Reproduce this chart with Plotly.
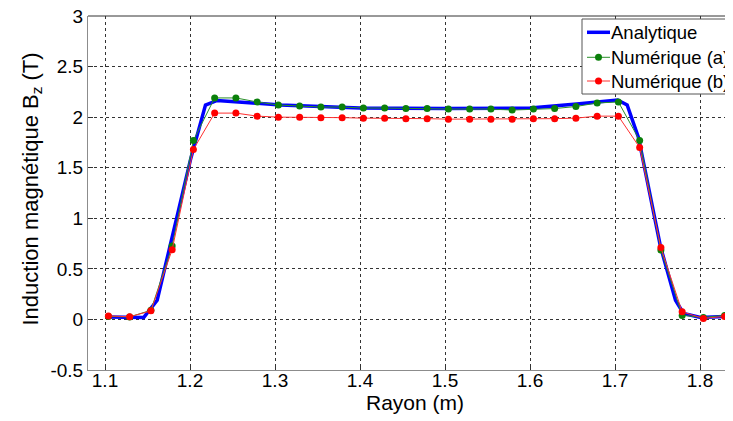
import plotly.graph_objects as go

# Analytical solution
x_analytic = [1.104, 1.1456, 1.1614, 1.177, 1.2006, 1.2182, 1.232, 1.3065, 1.40, 1.50,
              1.60, 1.655, 1.703, 1.7143, 1.7276, 1.7535, 1.7712, 1.7806, 1.8006, 1.8286]
y_analytic = [0.025, 0.02, 0.19, 0.75, 1.58, 2.12, 2.165, 2.12, 2.09, 2.085,
              2.09, 2.13, 2.17, 2.12, 1.80, 0.72, 0.19, 0.06, 0.02, 0.03]

# Numerical results (30 radial positions, step 0.025 m)
x_num = [1.104 + 0.025 * i for i in range(30)]
y_num_a = [0.03, 0.025, 0.09, 0.725, 1.77, 2.19, 2.19, 2.15, 2.12, 2.11,
           2.10, 2.10, 2.09, 2.09, 2.085, 2.085, 2.08, 2.08, 2.08, 2.07,
           2.08, 2.085, 2.105, 2.14, 2.15, 1.77, 0.686, 0.04, 0.02, 0.04]
y_num_b = [0.035, 0.026, 0.085, 0.69, 1.68, 2.04, 2.04, 2.01, 2.00, 2.00,
           1.995, 1.995, 1.99, 1.99, 1.985, 1.985, 1.98, 1.98, 1.98, 1.98,
           1.985, 1.985, 1.99, 2.01, 2.01, 1.70, 0.71, 0.075, 0.01, 0.03]

x_ticks = [1.1, 1.2, 1.3, 1.4, 1.5, 1.6, 1.7, 1.8]
y_ticks = [-0.5, 0, 0.5, 1, 1.5, 2, 2.5, 3]
y_tick_labels = ["-0.5", "0", "0.5", "1", "1.5", "2", "2.5", "3"]

series_names = ["Analytique", "Numérique (a)", "Numérique (b)"]
series_colors = ["#0000FF", "#0b800b", "#FF0000"]
line_colors = ["#0000FF", "#2a8f2a", "#FF3030"]

font_family = "Liberation Sans, Arial, sans-serif"

# figure geometry (page body adds an 8px offset)
W, H = 725, 413
L, T, B, R = 80, 8, 51, 0
PW, PH = W - L - R, H - T - B


def px(X):  # window x pixel -> paper
    return (X - 8 - L) / PW


def py(Y):  # window y pixel -> paper
    return 1 - (Y - 8 - T) / PH


fig = go.Figure()
fig.add_trace(go.Scatter(x=x_analytic, y=y_analytic, mode="lines", name=series_names[0],
                         line=dict(color=line_colors[0], width=3.5)))
fig.add_trace(go.Scatter(x=x_num, y=y_num_a, mode="lines+markers", name=series_names[1],
                         line=dict(color=line_colors[1], width=1),
                         marker=dict(color=series_colors[1], size=7)))
fig.add_trace(go.Scatter(x=x_num, y=y_num_b, mode="lines+markers", name=series_names[2],
                         line=dict(color=line_colors[2], width=1),
                         marker=dict(color=series_colors[2], size=7)))

grid = dict(showgrid=True, gridcolor="#333333", gridwidth=1, griddash="dot")

# manual legend (box clipped on the right like the reference)
shapes = [
    dict(type="line", xref="paper", yref="paper", x0=0, x1=1, y0=1, y1=1,
         line=dict(color="#333333", width=1)),
    dict(type="rect", xref="paper", yref="paper", x0=px(582), x1=px(760), y0=py(94), y1=py(19),
         line=dict(color="#555555", width=1), fillcolor="white", layer="above"),
]
annotations = []
rows = [32.3, 57.3, 81.0]
for i, name in enumerate(series_names):
    yy = py(rows[i])
    shapes.append(dict(type="line", xref="paper", yref="paper", x0=px(587), x1=px(610), y0=yy, y1=yy,
                       line=dict(color=line_colors[i], width=3.5 if i == 0 else 1), layer="above"))
    if i > 0:
        shapes.append(dict(type="circle", xref="paper", yref="paper", xsizemode="pixel", ysizemode="pixel",
                           xanchor=px(598.5), yanchor=yy, x0=-3.5, x1=3.5, y0=-3.5, y1=3.5,
                           fillcolor=series_colors[i], line=dict(width=0), layer="above"))
    annotations.append(dict(text=name, xref="paper", yref="paper", x=px(609), y=yy,
                            xanchor="left", yanchor="middle", showarrow=False,
                            font=dict(size=18.5, family=font_family, color="black")))

# axis titles
annotations.append(dict(text="Induction magnétique B<sub>z</sub> (T)", xref="paper", yref="paper",
                        x=px(31.5), y=py(189), xanchor="center", yanchor="middle", textangle=-90,
                        showarrow=False, font=dict(size=22, family=font_family, color="black")))
annotations.append(dict(text="Rayon (m)", xref="paper", yref="paper",
                        x=px(415), y=py(402), xanchor="center", yanchor="middle",
                        showarrow=False, font=dict(size=21, family=font_family, color="black")))

fig.update_layout(
    width=W, height=H,
    margin=dict(l=L, r=R, t=T, b=B, autoexpand=False),
    paper_bgcolor="white", plot_bgcolor="white",
    font=dict(family=font_family, size=19, color="black"),
    showlegend=False,
    xaxis=dict(range=[1.08, 1.08 + PW / 850.0], tickvals=x_ticks, ticktext=[str(v) for v in x_ticks],
               ticks="inside", ticklen=5, tickcolor="#333333",
               showline=True, linecolor="#8c8c8c", linewidth=1,
               zeroline=False, automargin=False, ticklabeloverflow="allow",
               ticklabelstandoff=-7,
               tickfont=dict(size=19), **grid),
    yaxis=dict(range=[-0.5, 3], tickvals=y_ticks, ticktext=y_tick_labels,
               ticks="inside", ticklen=5, tickcolor="#333333",
               showline=True, linecolor="#8c8c8c", linewidth=1,
               zeroline=False, automargin=False, ticklabeloverflow="allow",
               tickfont=dict(size=19), **grid),
    shapes=shapes,
    annotations=annotations,
)

fig.write_html("out.html")
